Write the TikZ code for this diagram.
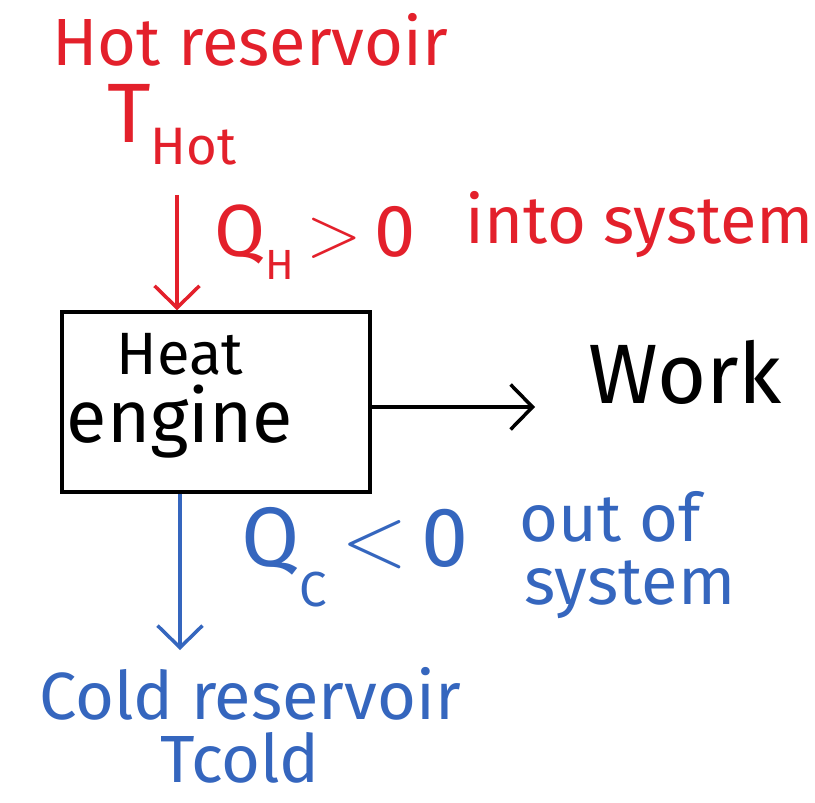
\documentclass[tikz,border=0pt]{standalone}
\usepackage{fontspec}
\setmainfont{Fira Sans}
\usetikzlibrary{arrows.meta,positioning}
\definecolor{hotred}{HTML}{E3202B}
\definecolor{coldblue}{HTML}{3566BE}

\begin{document}
\begin{tikzpicture}[->,>={Straight Barb[length=2.2mm,width=4.5mm]},line width=1pt,font=\fontsize{19}{22}\selectfont]
\tikzstyle{every node}=[inner sep=1pt]
\tikzstyle{hot}=[text=hotred]
\tikzstyle{cold}=[text=coldblue]
\useasboundingbox (0,0) rectangle (8.15,8.02);

\node[draw,minimum width=3.08cm,minimum height=1.8cm] (engine) at (2.16,4.00) {};
\node (heat) at (1.80,4.48) {\fontsize{17}{19}\selectfont Heat};
\node (eng) [below of=heat,node distance=0.68cm] {\fontsize{21}{23}\selectfont engine};
\node (work) at (6.85,4.30) {\fontsize{24}{26}\selectfont Work};

\node[hot] (hres) at (2.50,7.62) {Hot reservoir};
\node[hot] (thot) at (1.72,6.77) {\fontsize{24}{26}\selectfont T\raisebox{-0.5ex}{\fontsize{15}{17}\selectfont Hot}};
\node[hot] (qh) at (3.15,5.60) {\fontsize{21}{23}\selectfont Q\raisebox{-0.6ex}{\fontsize{12}{14}\selectfont H}\,$>$\,0};
\node[hot] (into) at (6.40,5.77) {into system};

\node[cold] (qc) at (3.55,2.45) {\fontsize{24}{26}\selectfont Q\raisebox{-0.9ex}{\fontsize{14}{16}\selectfont C}\,$<$\,0};
\node[cold] (out) at (6.10,2.85) {out of};
\node[cold] (sys) at (6.30,2.12) {system};
\node[cold] (cres) at (2.50,1.08) {Cold reservoir};
\node[cold] (tcold) at (2.40,0.44) {Tcold};

\coordinate (hotin) at (1.77,6.07);
\coordinate (coldout) at (1.80,1.52);

\draw[hotred] (hotin) -- (engine.north -| hotin);
\draw (engine.east |- 0,3.95) -- (5.35,3.95);
\draw[coldblue] (engine.south -| coldout) -- (coldout);
\end{tikzpicture}
\end{document}
